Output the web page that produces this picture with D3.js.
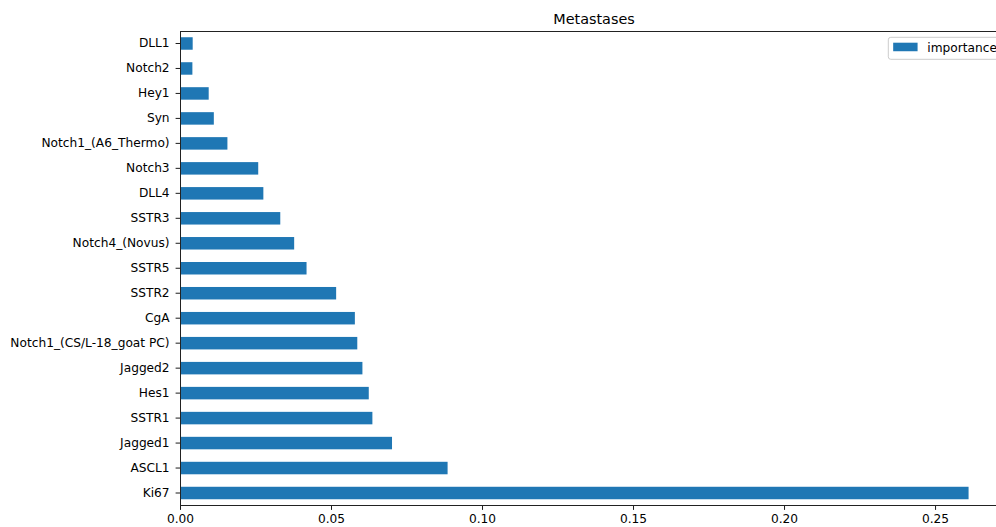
<!DOCTYPE html>
<html>
<head>
<meta charset="utf-8">
<script src="https://cdn.jsdelivr.net/npm/d3@7"></script>
<style>
  html, body { margin: 0; padding: 0; background: #fff; }
  svg { display: block; font-family: "DejaVu Sans", sans-serif; }
</style>
</head>
<body>
<svg id="chart" width="996" height="527"></svg>
<script>
// Feature importances, listed top to bottom as drawn
const features = [
  "DLL1", "Notch2", "Hey1", "Syn", "Notch1_(A6_Thermo)", "Notch3", "DLL4",
  "SSTR3", "Notch4_(Novus)", "SSTR5", "SSTR2", "CgA", "Notch1_(CS/L-18_goat PC)",
  "Jagged2", "Hes1", "SSTR1", "Jagged1", "ASCL1", "Ki67"
];
const importance = [
  0.0042, 0.0041, 0.0095, 0.0112, 0.0157, 0.0259, 0.0276,
  0.0332, 0.0378, 0.0419, 0.0517, 0.0579, 0.0587,
  0.0604, 0.0625, 0.0637, 0.0702, 0.0886, 0.2611
];
const xTicks = [0, 0.05, 0.10, 0.15, 0.20, 0.25];
const seriesName = "importance";
const chartTitle = "Metastases";

const barColor = "#1f77b4";
const fontSize = 12.2;

const svg = d3.select("#chart");
const plotL = 180, plotR = 1008, plotT = 31, plotB = 505.5;

const xMax = d3.max(importance) * 1.05;
const x = d3.scaleLinear().domain([0, xMax]).range([plotL, plotR]);
const y = d3.scaleBand().domain(features).range([plotT, plotB])
  .paddingInner(0.5).paddingOuter(0.25);

// bars
svg.append("g").selectAll("rect")
  .data(features.map((f, i) => ({ f, v: importance[i] })))
  .join("rect")
  .attr("x", x(0))
  .attr("y", d => y(d.f))
  .attr("width", d => x(d.v) - x(0))
  .attr("height", y.bandwidth())
  .attr("fill", barColor);

// axes
const xAxis = d3.axisBottom(x).tickValues(xTicks).tickFormat(d3.format(".2f"))
  .tickSize(4.4).tickPadding(4.6);
const yAxis = d3.axisLeft(y).tickSize(4.4).tickPadding(6);

const gx = svg.append("g").attr("transform", `translate(0,${plotB})`).call(xAxis);
const gy = svg.append("g").attr("transform", `translate(${plotL},0)`).call(yAxis);
[gx, gy].forEach(g => {
  g.select(".domain").remove();
  g.selectAll(".tick line").attr("stroke", "#000").attr("stroke-width", 0.9);
  g.selectAll(".tick text").attr("fill", "#000")
    .style("font-size", fontSize + "px")
    .style("font-family", "'DejaVu Sans', sans-serif");
});

// frame
svg.append("rect").attr("x", plotL).attr("y", plotT)
  .attr("width", plotR - plotL).attr("height", plotB - plotT)
  .attr("stroke", "#222").attr("stroke-width", 1).attr("fill", "none")
  .attr("shape-rendering", "crispEdges");

// title
svg.append("text")
  .attr("x", (plotL + plotR) / 2).attr("y", 24)
  .attr("text-anchor", "middle")
  .style("font-size", "14.4px")
  .attr("fill", "#000")
  .text(chartTitle);

// legend
const lg = svg.append("g");
const lgW = 113.6, lgH = 22;
const lgX = plotR - 0.5 * fontSize - lgW, lgY = 37.3;
lg.append("rect").attr("x", lgX).attr("y", lgY).attr("width", lgW).attr("height", lgH)
  .attr("rx", 2.5).attr("fill", "#fff").attr("fill-opacity", 0.8)
  .attr("stroke", "#cccccc").attr("stroke-width", 1);
lg.append("rect").attr("x", lgX + 0.4 * fontSize).attr("y", 42.7)
  .attr("width", 2 * fontSize).attr("height", 0.7 * fontSize)
  .attr("fill", barColor);
lg.append("text").attr("x", lgX + 3.2 * fontSize).attr("y", 51.6)
  .style("font-size", fontSize + "px").attr("fill", "#000")
  .text(seriesName);
</script>
</body>
</html>
